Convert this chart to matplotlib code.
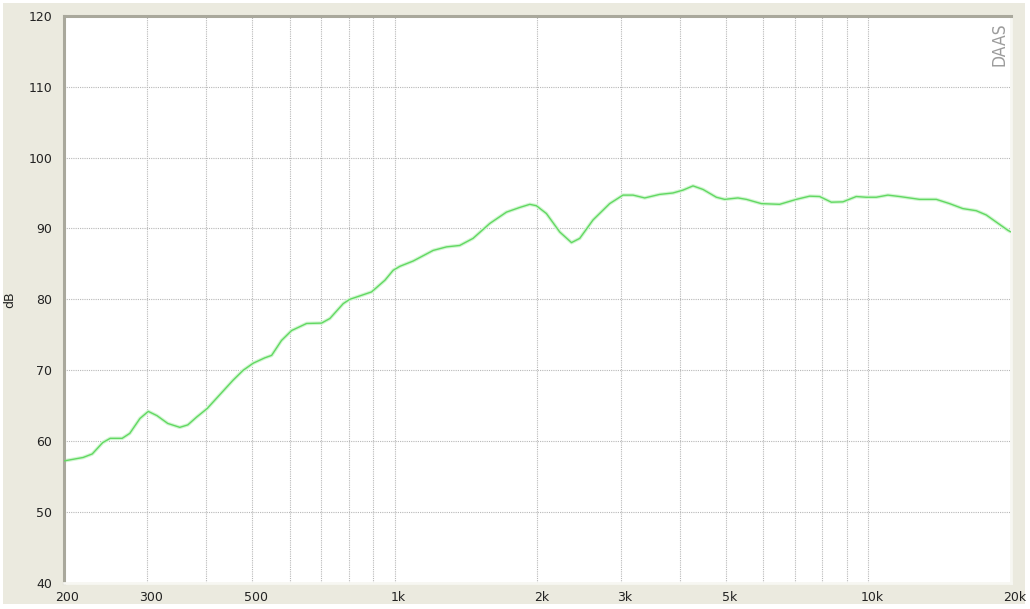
import matplotlib
matplotlib.use("Agg")
import matplotlib.pyplot as plt
from matplotlib.patches import Rectangle
from matplotlib.ticker import FixedLocator, NullFormatter, NullLocator
import matplotlib.transforms as mtransforms

# Frequency response data (Hz, dB)
freq_hz = [200, 220, 230, 242, 251, 266, 276, 290, 302, 315, 332, 352, 366, 382, 402,
           456, 479, 503, 532, 550, 577, 606, 652, 701, 730, 779, 804, 894, 954, 993,
           1026, 1094, 1206, 1287, 1372, 1464, 1588, 1722, 1837, 1929, 1992, 2091, 2231,
           2362, 2459, 2623, 2844, 3034, 3186, 3372, 3626, 3868, 4060, 4264, 4476, 4776,
           4973, 5303, 5526, 5943, 6496, 7046, 7516, 7890, 8351, 8835, 9428, 9898, 10390,
           10994, 11638, 12824, 13910, 14838, 15824, 16892, 17732, 18614, 19690, 20000]
level_db = [57.2, 57.7, 58.2, 59.8, 60.4, 60.4, 61.1, 63.2, 64.2, 63.6, 62.5, 61.95, 62.3,
            63.4, 64.6, 68.6, 70.0, 71.0, 71.75, 72.1, 74.2, 75.6, 76.6, 76.65, 77.3, 79.4,
            80.0, 81.05, 82.7, 84.1, 84.66, 85.4, 86.9, 87.4, 87.6, 88.6, 90.7, 92.3, 92.96,
            93.4, 93.2, 92.1, 89.5, 88.0, 88.6, 91.2, 93.5, 94.7, 94.7, 94.3, 94.8, 95.0,
            95.4, 96.0, 95.5, 94.4, 94.1, 94.3, 94.1, 93.5, 93.4, 94.1, 94.55, 94.5, 93.7,
            93.75, 94.5, 94.4, 94.4, 94.7, 94.5, 94.1, 94.1, 93.5, 92.8, 92.5, 91.9, 90.9,
            89.75, 89.5]

x_tick_values = [200, 300, 500, 1000, 2000, 3000, 5000, 10000, 20000]
x_tick_labels = ["200", "300", "500", "1k", "2k", "3k", "5k", "10k", "20k"]
x_grid_values = [200, 300, 400, 500, 600, 700, 800, 900, 1000, 2000, 3000, 4000, 5000,
                 6000, 7000, 8000, 9000, 10000, 20000]
y_tick_values = [40, 50, 60, 70, 80, 90, 100, 110, 120]

W, H = 1030, 609
fig = plt.figure(figsize=(W / 100, H / 100), dpi=100)
fig.patch.set_facecolor("white")

# background panel
bg = fig.add_axes([0, 0, 1, 1], zorder=0)
bg.set_xlim(0, W)
bg.set_ylim(H, 0)
bg.axis("off")
bg.add_patch(Rectangle((3, 3), 1022, 601, facecolor="#ebeadf", edgecolor="none"))

left, right, top, bottom = 63.5, 1011, 15.7, 583
ax = fig.add_axes([left / W, 1 - bottom / H, (right - left) / W, (bottom - top) / H],
                  zorder=2)
ax.set_facecolor("white")
ax.set_xscale("log")
ax.set_xlim(200, 20000)
ax.set_ylim(40, 120)

ax.xaxis.set_major_locator(FixedLocator(x_tick_values))
ax.xaxis.set_minor_locator(NullLocator())
ax.xaxis.set_minor_formatter(NullFormatter())
ax.set_xticklabels(x_tick_labels)
ax.set_yticks(y_tick_values)
ax.tick_params(axis="both", length=0, labelsize=9, colors="#222222")
ax.tick_params(axis="x", pad=6)
ax.tick_params(axis="y", pad=8)
off = mtransforms.ScaledTranslation(4 / 100, 0, fig.dpi_scale_trans)
for lbl in ax.get_xticklabels():
    lbl.set_transform(lbl.get_transform() + off)

for xv in x_grid_values:
    ax.axvline(xv, color="#b8b8b8", lw=0.8, ls=(0, (1, 1)), zorder=1)
for yv in y_tick_values:
    ax.axhline(yv, color="#b8b8b8", lw=0.8, ls=(0, (1, 1)), zorder=1)

ax.plot(freq_hz, level_db, color="#d2f6d2", lw=2.6, zorder=2, solid_joinstyle="round")
ax.plot(freq_hz, level_db, color="#62d862", lw=1.0, zorder=3, solid_joinstyle="round")

for s in ["left", "top"]:
    ax.spines[s].set_color("#a9a89c")
    ax.spines[s].set_linewidth(2.2)
for s in ["right", "bottom"]:
    ax.spines[s].set_color("#f7f7f2")
    ax.spines[s].set_linewidth(2)

ax.set_ylabel("dB", fontsize=9, color="#222222")
ax.yaxis.set_label_coords((16 - left) / (right - left), 0.5)

fig.text(1000 / W, 1 - 44 / H, "DAAS", rotation=90, ha="center", va="center",
         fontsize=12.5, color="#9c9c9c", fontweight="light", fontstretch="condensed",
         family="DejaVu Sans", zorder=5)

fig.savefig("out.png", dpi=100, facecolor=fig.get_facecolor())
